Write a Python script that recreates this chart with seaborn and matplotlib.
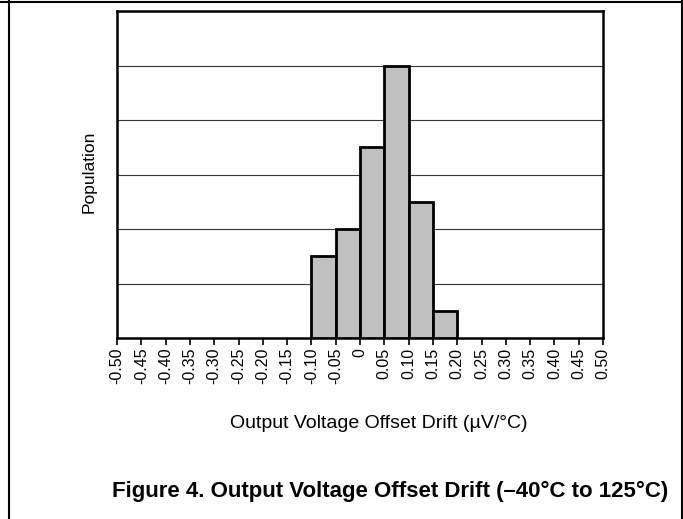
import matplotlib
matplotlib.use("Agg")
import matplotlib.pyplot as plt
import seaborn as sns
import numpy as np
import pandas as pd
from matplotlib.lines import Line2D

# Data
bin_edges = [-0.10, -0.05, 0.00, 0.05, 0.10, 0.15, 0.20]
bin_centers = [-0.075, -0.025, 0.025, 0.075, 0.125, 0.175]
population = [1.5, 2.0, 3.5, 5.0, 2.5, 0.5]
tick_values = [round(-0.50 + 0.05 * i, 2) for i in range(21)]
tick_labels = ["-0.50", "-0.45", "-0.40", "-0.35", "-0.30", "-0.25", "-0.20", "-0.15",
               "-0.10", "-0.05", "0", "0.05", "0.10", "0.15", "0.20", "0.25", "0.30",
               "0.35", "0.40", "0.45", "0.50"]

sns.set_theme(style="white")
plt.rcParams['font.family'] = ['Liberation Sans', 'DejaVu Sans']
plt.rcParams['text.color'] = 'black'
plt.rcParams['axes.labelcolor'] = 'black'

fig = plt.figure(figsize=(6.83, 5.19), dpi=100)
ax = fig.add_axes([117/683, 1 - 338/519, (603-117)/683, (338-11)/519])

df = pd.DataFrame({"drift": bin_centers, "pop": population})
sns.histplot(data=df, x="drift", weights="pop", bins=bin_edges, ax=ax,
             color="#c0c0c0", edgecolor="black", linewidth=2.0, alpha=1.0, zorder=3)

ax.set_xlim(-0.5, 0.5)
ax.set_ylim(0, 6)
ax.set_yticks([1, 2, 3, 4, 5])
ax.set_yticklabels([])
ax.yaxis.grid(True, color="#333333", linewidth=0.8, zorder=0)
ax.set_axisbelow(True)
ax.tick_params(axis="y", length=0)

ax.set_xticks(tick_values)
ax.set_xticklabels(tick_labels, rotation=90, fontsize=11.5)
ax.tick_params(axis="x", direction="out", length=5, width=1.2, color="black",
               bottom=True, pad=2, labelcolor="black")

for s in ax.spines.values():
    s.set_color("black")
    s.set_linewidth(1.8)
    s.set_visible(True)

ax.set_xlabel("Output Voltage Offset Drift (µV/°C)", fontsize=14, color="black")
ax.xaxis.set_label_coords((379 - 117) / 486, -(415 - 338) / 327)
ax.set_ylabel("Population", fontsize=12.5, color="black")
ax.yaxis.set_label_coords((97 - 117) / 486, (338 - 171.5) / 327)

fig.text(390/683, 1 - 491/519, "Figure 4. Output Voltage Offset Drift (–40°C to 125°C)",
         ha="center", va="center", fontsize=16, fontweight="bold", color="black")

# outer frame
fig.add_artist(Line2D([0, 682/683], [1 - 2/519, 1 - 2/519], transform=fig.transFigure,
                      color="black", linewidth=1.5))
fig.add_artist(Line2D([9/683, 9/683], [0, 1], transform=fig.transFigure,
                      color="black", linewidth=1.5))
fig.add_artist(Line2D([681.5/683, 681.5/683], [0, 1], transform=fig.transFigure,
                      color="black", linewidth=1.5))

fig.savefig("out.png", dpi=100)
